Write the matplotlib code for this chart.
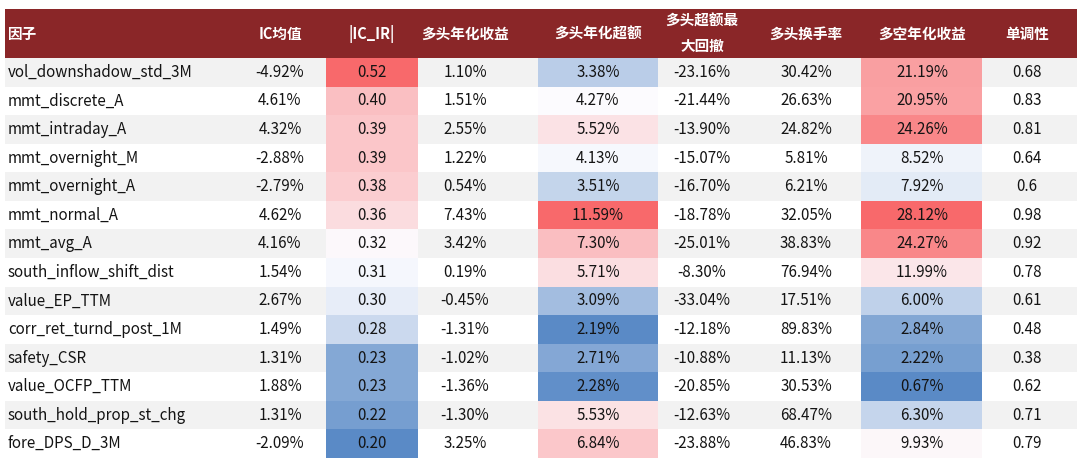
import matplotlib.pyplot as plt
import numpy as np
from matplotlib.colors import to_rgb

plt.rcParams["font.family"] = ["Noto Sans CJK SC", "DejaVu Sans"]

headers = ["因子", "IC均值", "|IC_IR|", "多头年化收益", "多头年化超额", "多头超额最\n大回撤", "多头换手率", "多空年化收益", "单调性"]
factors = [
    "vol_downshadow_std_3M", "mmt_discrete_A", "mmt_intraday_A", "mmt_overnight_M", "mmt_overnight_A",
    "mmt_normal_A", "mmt_avg_A", "south_inflow_shift_dist", "value_EP_TTM", "corr_ret_turnd_post_1M",
    "safety_CSR", "value_OCFP_TTM", "south_hold_prop_st_chg", "fore_DPS_D_3M",
]
ic_mean = [-4.92, 4.61, 4.32, -2.88, -2.79, 4.62, 4.16, 1.54, 2.67, 1.49, 1.31, 1.88, 1.31, -2.09]
ic_ir = [0.52, 0.40, 0.39, 0.39, 0.38, 0.36, 0.32, 0.31, 0.30, 0.28, 0.23, 0.23, 0.22, 0.20]
long_ret = [1.10, 1.51, 2.55, 1.22, 0.54, 7.43, 3.42, 0.19, -0.45, -1.31, -1.02, -1.36, -1.30, 3.25]
long_excess = [3.38, 4.27, 5.52, 4.13, 3.51, 11.59, 7.30, 5.71, 3.09, 2.19, 2.71, 2.28, 5.53, 6.84]
excess_mdd = [-23.16, -21.44, -13.90, -15.07, -16.70, -18.78, -25.01, -8.30, -33.04, -12.18, -10.88, -20.85, -12.63, -23.88]
turnover = [30.42, 26.63, 24.82, 5.81, 6.21, 32.05, 38.83, 76.94, 17.51, 89.83, 11.13, 30.53, 68.47, 46.83]
ls_ret = [21.19, 20.95, 24.26, 8.52, 7.92, 28.12, 24.27, 11.99, 6.00, 2.84, 2.22, 0.67, 6.30, 9.93]
monotonic = [0.68, 0.83, 0.81, 0.64, 0.6, 0.98, 0.92, 0.78, 0.61, 0.48, 0.38, 0.62, 0.71, 0.79]

# layout (pixels across, rows down)
x_left, x_right = 5, 1077
text_x = [8, 280, 372, 465, 598, 702, 806, 922, 1027]
heat_edges = {2: (326, 418), 4: (538, 658), 7: (861, 982)}
header_h = 49 / 28.57

RED, MID, BLUE = to_rgb("#F8696B"), to_rgb("#FCFCFF"), to_rgb("#5A8AC6")


def _scale_colors(vals):
    # three-colour scale: min blue, median white, max red
    v = np.asarray(vals, dtype=float)
    lo, hi, med = v.min(), v.max(), np.percentile(v, 50)
    out = []
    for x in v:
        if x >= med:
            t = (x - med) / (hi - med)
            c = [m + (r - m) * t for m, r in zip(MID, RED)]
        else:
            t = (med - x) / (med - lo)
            c = [m + (b - m) * t for m, b in zip(MID, BLUE)]
        out.append(c)
    return out


columns = [
    factors,
    [f"{v:.2f}%" for v in ic_mean],
    [f"{v:.2f}" for v in ic_ir],
    [f"{v:.2f}%" for v in long_ret],
    [f"{v:.2f}%" for v in long_excess],
    [f"{v:.2f}%" for v in excess_mdd],
    [f"{v:.2f}%" for v in turnover],
    [f"{v:.2f}%" for v in ls_ret],
    [f"{v:g}" for v in monotonic],
]
heat = {2: _scale_colors(ic_ir), 4: _scale_colors(long_excess), 7: _scale_colors(ls_ret)}

fig = plt.figure(figsize=(10.8, 4.66), dpi=100)
ax = fig.add_axes([0, 0, 1, 1])
ax.set_xlim(0, 1080)
ax.set_ylim(14 + 8 / 28.57, -header_h - 9 / 28.57)
ax.axis("off")

rows = np.arange(len(factors))
ax.barh(-header_h / 2, x_right - x_left, left=x_left, height=header_h, color="#8A2628")
stripe = ["#F2F2F2" if i % 2 == 0 else "white" for i in rows]
ax.barh(rows + 0.5, x_right - x_left, left=x_left, height=1.0, color=stripe)
for col, colors in heat.items():
    l, r = heat_edges[col]
    ax.barh(rows + 0.5, r - l, left=l, height=1.0, color=colors)

for j, (h, tx) in enumerate(zip(headers, text_x)):
    ax.text(tx, -header_h / 2, h, ha="left" if j == 0 else "center", va="center",
            color="white", fontsize=10.5, fontweight="bold", linespacing=1.7)
for j, (vals, tx) in enumerate(zip(columns, text_x)):
    for i, s in enumerate(vals):
        ax.text(tx, i + 0.5, s, ha="left" if j == 0 else "center", va="center",
                color="#141414", fontsize=10.9)

fig.savefig("out.png", dpi=100)
